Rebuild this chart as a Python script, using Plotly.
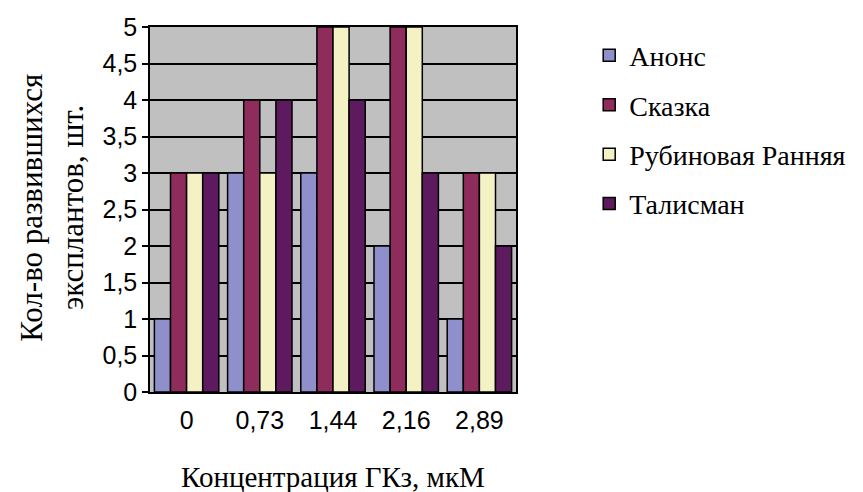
import plotly.graph_objects as go

categories = ["0", "0,73", "1,44", "2,16", "2,89"]
series_names = ["Анонс", "Сказка", "Рубиновая Ранняя", "Талисман"]
anons = [1, 3, 3, 2, 1]
skazka = [3, 4, 5, 5, 3]
rubinovaya = [3, 3, 5, 5, 3]
talisman = [3, 4, 4, 3, 2]
values = [anons, skazka, rubinovaya, talisman]
colors = ["#8f8fcc", "#8e2c5c", "#f4f2c4", "#5e1a5e"]
y_ticks = [0, 0.5, 1, 1.5, 2, 2.5, 3, 3.5, 4, 4.5, 5]
y_tick_text = ["0", "0,5", "1", "1,5", "2", "2,5", "3", "3,5", "4", "4,5", "5"]
y_title_lines = ["Кол-во развившихся", "эксплантов, шт."]
x_title = "Концентрация ГКз, мкМ"

SERIF = "Liberation Serif, Times New Roman, serif"
SANS = "Liberation Sans, Arial, sans-serif"

fig = go.Figure()
for name, vals, col in zip(series_names, values, colors):
    fig.add_trace(go.Bar(
        x=categories, y=vals, name=name, legendgroup=name,
        marker=dict(color=col, line=dict(color="black", width=1.5)),
    ))

fig.update_layout(
    width=863, height=492,
    paper_bgcolor="white", plot_bgcolor="#c0c0c0",
    margin=dict(l=150, r=330, t=27, b=100),
    barmode="group", bargap=0.12, bargroupgap=0,
    showlegend=True,
    legend=dict(x=1.2, y=0.99, xanchor="left", yanchor="top",
                font=dict(family=SERIF, size=28, color="black"),
                tracegroupgap=10, bgcolor="rgba(0,0,0,0)"),
    xaxis=dict(type="category", showline=True, linecolor="black", linewidth=1.5,
               mirror=True, ticks="outside", ticklen=5, tickcolor="rgba(0,0,0,0)",
               showgrid=False,
               tickfont=dict(family=SANS, size=25, color="black")),
    yaxis=dict(range=[0, 5], tickvals=y_ticks, ticktext=y_tick_text,
               showline=True, linecolor="black", linewidth=1.5, mirror=True,
               ticks="outside", ticklen=6, tickcolor="black", tickwidth=1.5,
               showgrid=True, gridcolor="black", gridwidth=1.5, zeroline=False,
               tickfont=dict(family=SANS, size=25, color="black")),
    annotations=[
        dict(text=y_title_lines[0],
             xref="paper", yref="paper", x=-0.322, y=0.505,
             xanchor="center", yanchor="middle", textangle=-90,
             showarrow=False,
             font=dict(family=SERIF, size=31, color="black")),
        dict(text=y_title_lines[1],
             xref="paper", yref="paper", x=-0.212, y=0.505,
             xanchor="center", yanchor="middle", textangle=-90,
             showarrow=False,
             font=dict(family=SERIF, size=31, color="black")),
        dict(text=x_title,
             xref="paper", yref="paper", x=0.5, y=-0.233,
             xanchor="center", yanchor="middle",
             showarrow=False,
             font=dict(family=SERIF, size=29, color="black")),
    ],
)

fig.write_html("out.html", config={"displayModeBar": False},
               post_script="document.body.style.margin='0';document.body.style.overflow='hidden';")
